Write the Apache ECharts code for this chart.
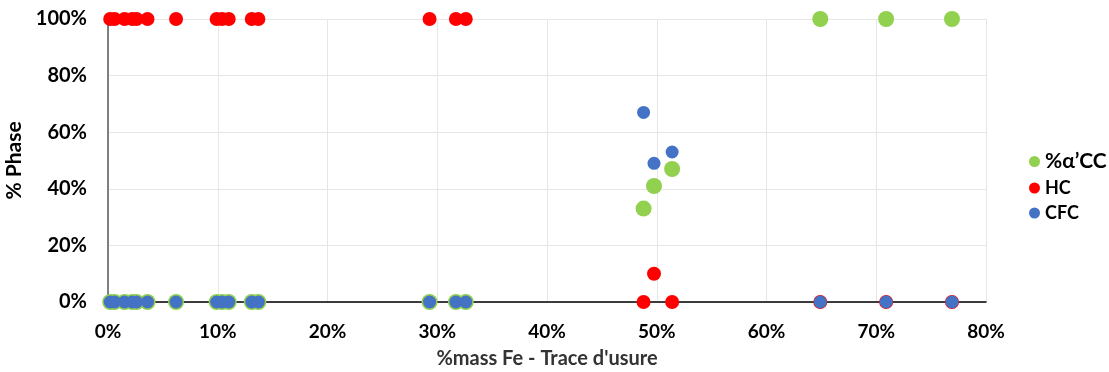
<!DOCTYPE html>
<html><head><meta charset="utf-8">
<script src="https://cdn.jsdelivr.net/npm/echarts@6/dist/echarts.min.js"></script>
<style>html,body{margin:0;padding:0;background:#fff}#c{width:1109px;height:372px}</style>
</head><body><div id="c"></div>
<script>
const xMassFe = [0.2, 0.6, 1.5, 2.2, 2.6, 3.6, 6.2, 9.9, 10.4, 11.0, 13.1, 13.7, 29.3, 31.7, 32.6, 48.8, 49.75, 51.4, 64.9, 70.9, 76.9];
const alphaCC = [0, 0, 0, 0, 0, 0, 0, 0, 0, 0, 0, 0, 0, 0, 0, 33, 41, 47, 100, 100, 100];
const hc      = [100, 100, 100, 100, 100, 100, 100, 100, 100, 100, 100, 100, 100, 100, 100, 0, 10, 0, 0, 0, 0];
const cfc     = [0, 0, 0, 0, 0, 0, 0, 0, 0, 0, 0, 0, 0, 0, 0, 67, 49, 53, 0, 0, 0];
const seriesNames = ["%\u03b1\u2019CC", "HC", "CFC"];
const colors = ["#92d050", "#ff0000", "#4472c4"];
const sizes = [16, 14, 13];

const pairs = a => xMassFe.map((x, i) => [x, a[i]]);
const allData = [alphaCC, hc, cfc];
const FONT = "Lato";
const chart = echarts.init(document.getElementById('c'));
chart.setOption({
  animation: false,
  textStyle: { fontFamily: FONT },
  grid: { left: 108, right: 123, top: 19, bottom: 70, containLabel: false, outerBoundsMode: 'none' },
  legend: {
    orient: 'vertical', left: 1024, top: 146, itemGap: 7,
    icon: 'circle', itemWidth: 11, itemHeight: 11,
    formatter: n => (n === seriesNames[0] ? '{a|' + n + '}' : '{b|' + n + '}'),
    textStyle: {
      fontFamily: FONT, fontWeight: 'bold', color: '#000',
      rich: {
        a: { fontFamily: FONT, fontWeight: 'bold', fontSize: 21, lineHeight: 30, color: '#000' },
        b: { fontFamily: FONT, fontWeight: 'bold', fontSize: 18, lineHeight: 22, color: '#000' }
      }
    },
    data: seriesNames
  },
  xAxis: {
    type: 'value', min: 0, max: 80, interval: 10,
    name: "%mass Fe - Trace d'usure", nameLocation: 'middle', nameGap: 47,
    nameTextStyle: { fontFamily: FONT, fontWeight: 'bold', fontSize: 20, color: '#333' },
    axisLine: { show: true, onZero: false, lineStyle: { color: '#000', width: 1.5 } },
    axisTick: { show: false },
    axisLabel: { formatter: '{value}%', fontFamily: FONT, fontWeight: 'bold', fontSize: 19, color: '#000', margin: 20 },
    splitLine: { show: true, lineStyle: { color: '#e6e6e6', width: 1 } }
  },
  yAxis: {
    type: 'value', min: 0, max: 100, interval: 20,
    name: '% Phase', nameLocation: 'middle', nameGap: 79, nameRotate: 90,
    nameTextStyle: { fontFamily: FONT, fontWeight: 'bold', fontSize: 21, color: '#000' },
    axisLine: { show: true, lineStyle: { color: '#595959', width: 1.5 } },
    axisTick: { show: false },
    axisLabel: { formatter: '{value}%', fontFamily: FONT, fontWeight: 'bold', fontSize: 20, color: '#000', margin: 21 },
    splitLine: { show: true, lineStyle: { color: '#e6e6e6', width: 1 } }
  },
  series: seriesNames.map((n, k) => ({
    name: n, type: 'scatter', symbol: 'circle', symbolSize: sizes[k],
    itemStyle: { color: colors[k], opacity: 1 },
    data: pairs(allData[k]), z: 2 + k
  }))
});
</script></body></html>
